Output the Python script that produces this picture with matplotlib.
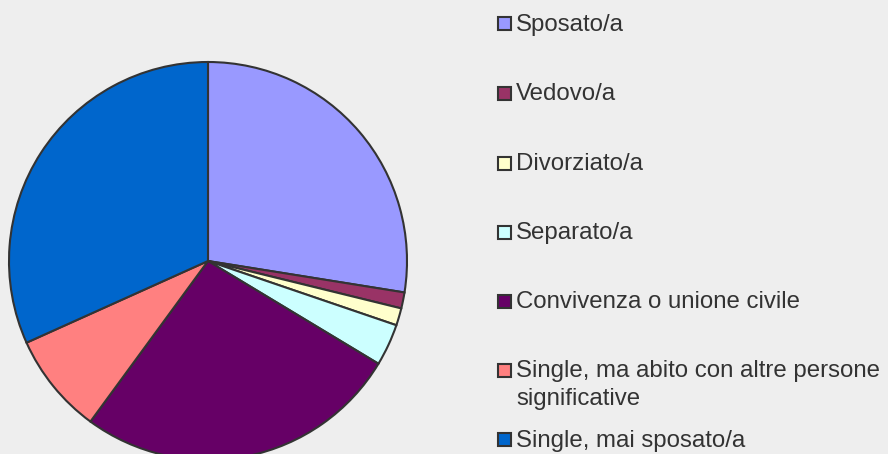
import matplotlib.pyplot as plt
from matplotlib.patches import Rectangle

labels = ['Sposato/a', 'Vedovo/a', 'Divorziato/a', 'Separato/a',
          'Convivenza o unione civile',
          'Single, ma abito con altre persone\nsignificative',
          'Single, mai sposato/a']
values = [27.5, 1.3, 1.4, 3.4, 26.4, 8.2, 31.7]
slice_colors = ['#9999FF', '#993366', '#FFFFCC', '#CCFFFF', '#660066', '#FF8080', '#0066CC']

W, H = 888, 454
bg = '#EEEEEE'
edge = '#333333'

fig = plt.figure(figsize=(W / 100, H / 100), dpi=100, facecolor=bg)
ax = fig.add_axes([0, 0, 1, 1])
ax.set_facecolor(bg)

# pie drawn in pixel units (y measured from the bottom)
ax.pie(values, colors=slice_colors, startangle=90, counterclock=False,
       center=(208, H - 261), radius=199, frame=True,
       wedgeprops=dict(edgecolor=edge, linewidth=1.5))
ax.set_xlim(0, W)
ax.set_ylim(0, H)
ax.set_aspect('equal')
ax.axis('off')

# legend, laid out like the spreadsheet one
entry_y = [23, 93, 163, 232, 301, 370, 439]
line_gap = 28
for lab, col, y in zip(labels, slice_colors, entry_y):
    ax.add_patch(Rectangle((497.5, H - y - 6.5), 13, 13, facecolor=col,
                           edgecolor=edge, linewidth=1.5))
    for i, line in enumerate(lab.split('\n')):
        ax.text(516, H - y - 1.5 - i * line_gap, line, va='center', ha='left',
                fontsize=17.3, family='Liberation Sans', color='#333333')

fig.savefig('out.png', dpi=100, facecolor=bg)
